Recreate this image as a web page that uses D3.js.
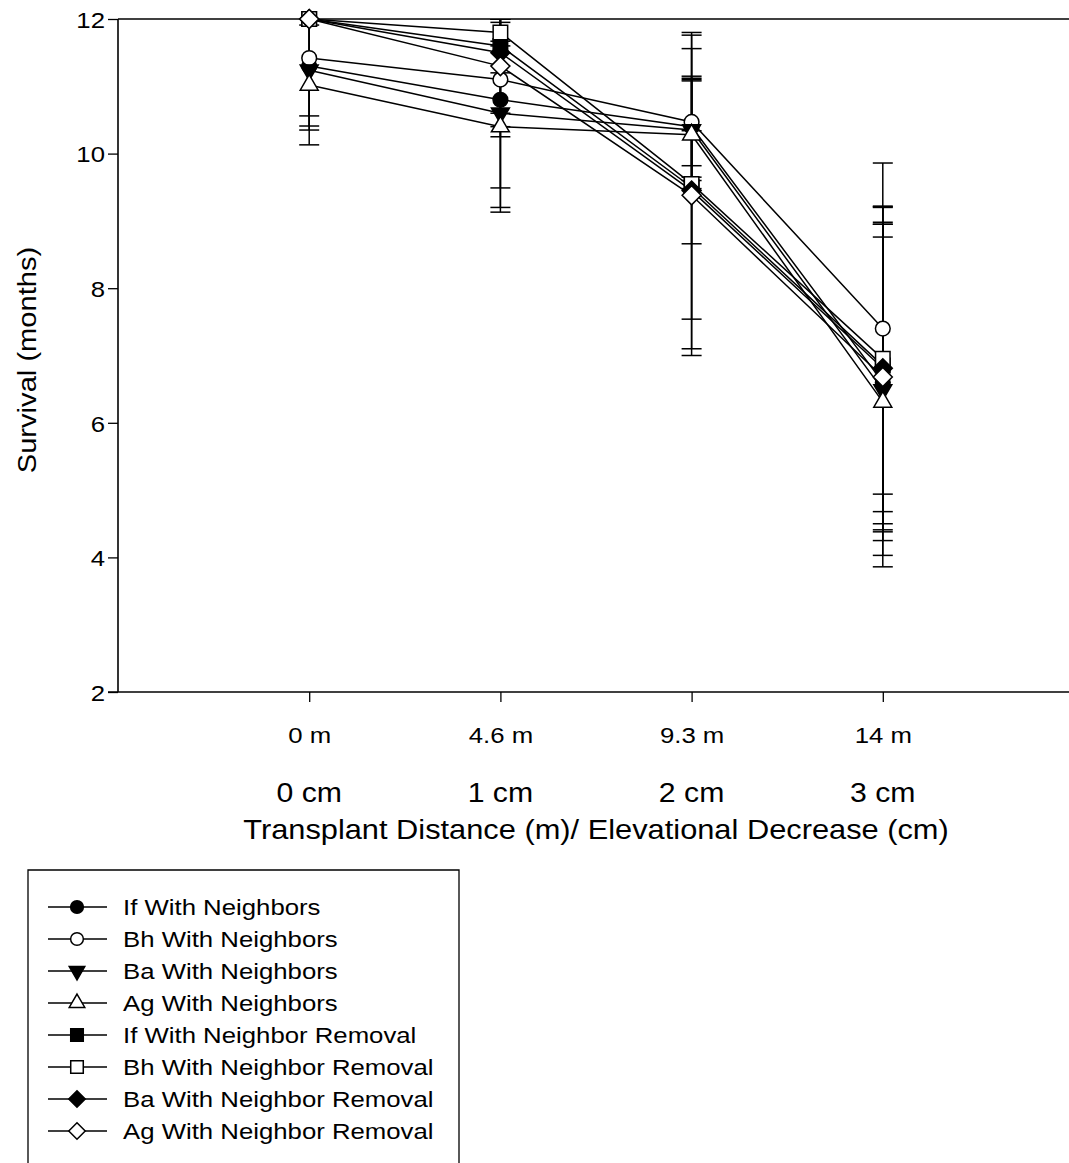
<!DOCTYPE html>
<html><head><meta charset="utf-8">
<script src="https://cdn.jsdelivr.net/npm/d3@7"></script>
<style>body{margin:0;background:#fff}svg{display:block;font-family:"Liberation Sans",Arial,sans-serif}</style>
</head><body><svg id="c" width="1069" height="1163"></svg>
<script>
const categories = ["0 m","4.6 m","9.3 m","14 m"];
const elevLabels = ["0 cm","1 cm","2 cm","3 cm"];
const yTicks = [2,4,6,8,10,12];
const seriesNames = ["If With Neighbors","Bh With Neighbors","Ba With Neighbors","Ag With Neighbors",
  "If With Neighbor Removal","Bh With Neighbor Removal","Ba With Neighbor Removal","Ag With Neighbor Removal"];
const seriesSymbols = ["circle","circle","triangleDown","triangle","square","square","diamond","diamond"];
const seriesFilled = [true,false,true,false,true,false,true,false];
const ifNb = [11.30,10.80,10.40,6.60];
const bhNb = [11.42,11.10,10.47,7.40];
const baNb = [11.24,10.60,10.35,6.49];
const agNb = [11.02,10.40,10.28,6.31];
const ifRm = [12.00,11.60,9.50,6.85];
const bhRm = [12.00,11.80,9.55,6.95];
const baRm = [12.00,11.50,9.45,6.81];
const agRm = [12.00,11.30,9.38,6.68];
const ifNbErr = [0.89,1.31,0.75,2.35];
const bhNbErr = [0.86,0.85,0.65,2.46];
const baNbErr = [0.89,1.40,0.75,2.46];
const agNbErr = [0.89,1.27,0.80,2.45];
const ifRmErr = [0,0.40,0.84,2.35];
const bhRmErr = [0,0.20,2.01,2.27];
const baRmErr = [0,1.10,2.35,2.40];
const agRmErr = [0,0.70,2.38,2.30];
const allValues = [ifNb,bhNb,baNb,agNb,ifRm,bhRm,baRm,agRm];
const allErrs = [ifNbErr,bhNbErr,baNbErr,agNbErr,ifRmErr,bhRmErr,baRmErr,agRmErr];

const SX = 1.12;
const svg = d3.select("#c");
const L = 118, T = 19, B = 692, R = 1074;
const x = d3.scaleLinear().domain([-1,4]).range([L,R]);
const y = d3.scaleLinear().domain([2,12]).range([B,T]);

svg.append("defs").append("clipPath").attr("id","clip")
  .append("rect").attr("x",L).attr("y",T).attr("width",R-L).attr("height",B-T);

// axes
const yAx = svg.append("g").attr("transform",`translate(${L},0)`)
  .call(d3.axisLeft(y).tickValues(yTicks).tickSize(10).tickPadding(0).tickFormat(d3.format("d")));
yAx.attr("font-size",null).attr("font-family",null);
yAx.select(".domain").attr("stroke-width",1.6).attr("d",`M0,${T}V${B}`);
yAx.selectAll(".tick line").attr("stroke-width",1.3);
yAx.selectAll("text").attr("x",0).attr("dy","0.36em").style("font-size","23px").attr("fill","#000")
  .attr("transform",`translate(-13,0) scale(${SX},1)`);

const xAx = svg.append("g").attr("transform",`translate(0,${B})`)
  .call(d3.axisBottom(x).tickValues([0,1,2,3]).tickSize(10).tickPadding(0).tickFormat(i=>categories[i]));
xAx.attr("font-size",null).attr("font-family",null);
xAx.select(".domain").attr("stroke-width",1.6).attr("d",`M108,0H1069`);
xAx.selectAll(".tick line").attr("stroke-width",1.3);
xAx.selectAll("text").attr("y",0).attr("dy",0).style("font-size","23px").attr("fill","#000")
  .attr("transform",`translate(0,51) scale(${SX},1)`);

svg.append("line").attr("x1",L).attr("x2",1069).attr("y1",T).attr("y2",T).attr("stroke","#000").attr("stroke-width",1.6);

function stext(g,tx,ty,size,str,rot){
  return g.append("text").attr("transform",`translate(${tx},${ty})${rot?` rotate(${rot})`:""} scale(${SX},1)`)
    .attr("text-anchor","middle").style("font-size",size+"px").text(str);
}
elevLabels.forEach((d,i)=>stext(svg,x(i),802,27,d));
stext(svg,596,839,27.5,"Transplant Distance (m)/ Elevational Decrease (cm)");
stext(svg,36,360,26,"Survival (months)",-90);

const symMap = {circle:d3.symbolCircle,square:d3.symbolSquare,triangle:d3.symbolTriangle,triangleDown:d3.symbolTriangle};
const sizeMap = {circle:170,square:210,triangle:140,triangleDown:140};
function drawSym(g,k,scale){
  const s = seriesSymbols[k];
  let d;
  if(s==="diamond"){ const h=9.5*Math.sqrt(scale); d=`M0,${-h}L${h},0L0,${h}L${-h},0Z`; }
  else d = d3.symbol(symMap[s],sizeMap[s]*scale)();
  const p = g.append("path").attr("d",d)
    .attr("fill",seriesFilled[k]?"#000":"#fff").attr("stroke","#000").attr("stroke-width",1.5);
  if(s==="triangleDown") p.attr("transform","rotate(180)");
  return p;
}

const plot = svg.append("g").attr("clip-path","url(#clip)");
const line = d3.line().x((d,i)=>x(i)).y(d=>y(d));
allValues.forEach((vals,k)=>{
  const g = plot.append("g").attr("stroke","#000").attr("stroke-width",1.5);
  vals.forEach((v,i)=>{
    const e = allErrs[k][i]; if(!e) return;
    const cx = x(i);
    g.append("line").attr("x1",cx).attr("x2",cx).attr("y1",y(v+e)).attr("y2",y(v-e));
    [v+e,v-e].forEach(t=>g.append("line").attr("x1",cx-10).attr("x2",cx+10).attr("y1",y(t)).attr("y2",y(t)));
  });
});
allValues.forEach((vals,k)=>{
  plot.append("path").attr("d",line(vals)).attr("fill","none").attr("stroke","#000").attr("stroke-width",1.5);
});
const mk = svg.append("g");
allValues.forEach((vals,k)=>{
  vals.forEach((v,i)=>{
    drawSym(mk.append("g").attr("transform",`translate(${x(i)},${y(v)})`),k,1);
  });
});

// legend
svg.append("path").attr("d","M28,1163V870H459V1163").attr("fill","none").attr("stroke","#000").attr("stroke-width",1.3);
const leg = svg.append("g");
seriesNames.forEach((n,k)=>{
  const yy = 907 + k*32;
  leg.append("line").attr("x1",48).attr("x2",107).attr("y1",yy).attr("y2",yy).attr("stroke","#000").attr("stroke-width",1.5);
  drawSym(leg.append("g").attr("transform",`translate(77,${yy})`),k,0.75);
  leg.append("text").attr("transform",`translate(123,${yy+8}) scale(${SX},1)`).style("font-size","23px").text(n);
});
</script></body></html>
